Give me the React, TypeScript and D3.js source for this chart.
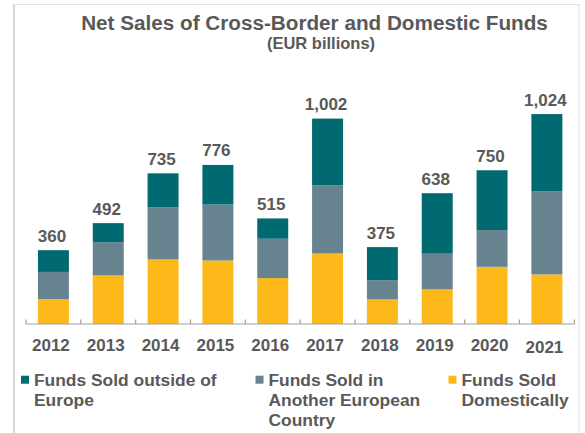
import * as d3 from 'd3'

const years = ['2012', '2013', '2014', '2015', '2016', '2017', '2018', '2019', '2020', '2021']
const domestic = [122, 237, 315, 310, 224, 344, 120, 169, 279, 242]
const otherEurope = [132, 162, 255, 273, 192, 333, 94, 174, 179, 406]
const outsideEurope = [106, 93, 165, 193, 99, 325, 161, 295, 292, 376]
const totals = [360, 492, 735, 776, 515, 1002, 375, 638, 750, 1024]

const seriesNames = ['Funds Sold outside of Europe', 'Funds Sold in Another European Country', 'Funds Sold Domestically']
const legendLines = [['Funds Sold outside of', 'Europe'], ['Funds Sold in', 'Another European', 'Country'], ['Funds Sold', 'Domestically']]
const colors = ['#006a70', '#66838f', '#fdb81a']

const W = 585
const H = 433
const font = '"Liberation Sans", Arial, sans-serif'
const textColor = '#595959'

export default function App() {
  const x = d3.scaleBand().domain(years).range([26, 574.3]).paddingInner(0.435).paddingOuter(0.2175)
  const y = d3.scaleLinear().domain([0, 1100]).range([324, 98.5])

  const rows = years.map((yr, i) => ({ year: yr, domestic: domestic[i], other: otherEurope[i], outside: outsideEurope[i] }))
  const stack = d3.stack<any>().keys(['domestic', 'other', 'outside'])(rows)
  const fillFor = [colors[2], colors[1], colors[0]]

  const step = x.step()
  const tickXs = d3.range(years.length + 1).map(i => 26 + i * step)
  const mid = (yr: string) => x(yr)! + x.bandwidth() / 2
  const legendX = [21, 255.5, 448.5]

  return (
    <svg width={W} height={H} style={{ position: 'absolute', left: 0, top: 0, fontFamily: font }}>
      <rect width={W} height={H} fill="#fff" />
      {/* frame */}
      <line x1={14} y1={4.5} x2={579} y2={4.5} stroke="#dde2e6" strokeWidth={1} />
      <line x1={14} y1={4} x2={14} y2={H} stroke="#d3d9de" strokeWidth={2} />
      <line x1={579} y1={4} x2={579} y2={H} stroke="#dde2e6" strokeWidth={1} />

      <text x={314.5} y={29.5} textAnchor="middle" fontSize={20.7} fontWeight="bold" fill={textColor}>
        Net Sales of Cross-Border and Domestic Funds
      </text>
      <text x={321} y={49} textAnchor="middle" fontSize={16.5} fontWeight="bold" fill={textColor}>
        (EUR billions)
      </text>

      {stack.map((layer, li) => (
        <g key={layer.key} fill={fillFor[li]}>
          {layer.map((d, i) => (
            <rect key={i} x={x(years[i])!} width={x.bandwidth()} y={y(d[1])} height={y(d[0]) - y(d[1])} />
          ))}
        </g>
      ))}

      {/* axis */}
      <line x1={26} x2={574.3} y1={324} y2={324} stroke="#a0a0a0" strokeWidth={1.2} />
      {tickXs.map((tx, i) => (
        <line key={i} x1={tx} x2={tx} y1={319.5} y2={324} stroke="#a0a0a0" strokeWidth={1.2} />
      ))}

      {totals.map((t, i) => (
        <text key={i} x={mid(years[i]) - 1.5} y={y(t) - 8.5} textAnchor="middle"
          fontSize={17} fontWeight="bold" fill={textColor}>
          {d3.format(',')(t)}
        </text>
      ))}

      {years.map((yr, i) => (
        <text key={yr} x={mid(yr) - 2.5} y={i === years.length - 1 ? 352.8 : 351} textAnchor="middle"
          fontSize={17} fontWeight="bold" fill={textColor}>
          {yr}
        </text>
      ))}

      {seriesNames.map((name, i) => (
        <g key={name}>
          <rect x={legendX[i]} y={375.7} width={8} height={8} fill={colors[i]} />
          <text x={legendX[i] + 13} y={385.7} fontSize={17.4} fontWeight="bold" fill={textColor}>
            {legendLines[i].map((ln, j) => (
              <tspan key={j} x={legendX[i] + 13} y={385.7 + j * 20.1}>{ln}</tspan>
            ))}
          </text>
        </g>
      ))}
    </svg>
  )
}
